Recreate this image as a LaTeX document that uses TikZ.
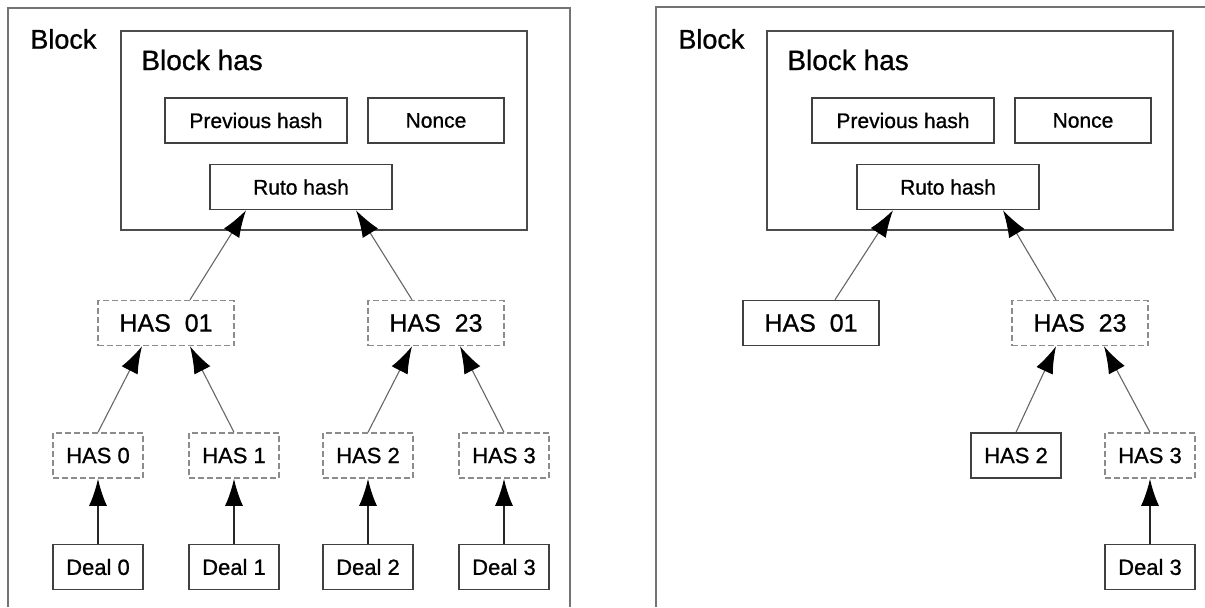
\documentclass[tikz,border=0pt]{standalone}
\usepackage{fontspec}
\setmainfont{Liberation Sans}[FakeBold=0.9]
\usetikzlibrary{positioning,arrows.meta}

\tikzset{
  hashbox/.style={draw=black!75,line width=0.75pt,inner sep=0pt,minimum height=22.5pt,minimum width=45pt,font=\fontsize{11}{13}\selectfont},
  dashbox/.style={hashbox,draw=black!45,dash pattern=on 3pt off 1.5pt},
  pairbox/.style={minimum width=68pt,font=\fontsize{12.5}{15}\selectfont},
  fieldbox/.style={hashbox,minimum width=91pt,font=\fontsize{10.5}{12}\selectfont},
  title/.style={anchor=west,inner sep=0pt,font=\fontsize{13.5}{16}\selectfont},
  frame/.style={draw=black!55,line width=1.1pt},
  body/.style={draw=black!70,line width=0.75pt,minimum width=203pt,minimum height=99.5pt},
  link/.style={draw=black!60,line width=0.55pt},
  feed/.style={draw=black!85,line width=0.9pt},
}

\begin{document}
\begin{tikzpicture}[x=0.5pt,y=-0.5pt,on grid,>={Latex[length=13.5pt,width=9pt,color=black]}]
    \useasboundingbox (0,0) rectangle (1205,607);
    % left block: full tree
    \draw[frame] (8,607) |- (570,8) -- (570,607);
    \node[title] (blockL) at (30,39) {Block};
    \node[body] (bodyL) at (324,130.5) {};
    \node[title,font=\fontsize{14}{16}\selectfont] (hasL) at (141,60) {Block has};
    \node[fieldbox] (rutoL) at (301,187) {Ruto hash};
    \node[fieldbox] (prevL)                    [above left=33.25pt and 22.5pt of rutoL]  {Previous hash};
    \node[fieldbox,minimum width=68pt] (nonceL) [above right=33.25pt and 67.5pt of rutoL] {Nonce};
    \node[dashbox,pairbox] (h01L) [below left=68pt and 67.5pt of rutoL]  {HAS\ \ 01};
    \node[dashbox,pairbox] (h23L) [below right=68pt and 67.5pt of rutoL] {HAS\ \ 23};
    \node[dashbox] (h0L) [below left=66.25pt and 34pt of h01L]  {HAS 0};
    \node[dashbox] (h1L) [below right=66.25pt and 34pt of h01L] {HAS 1};
    \node[dashbox] (h2L) [below left=66.25pt and 34pt of h23L]  {HAS 2};
    \node[dashbox] (h3L) [below right=66.25pt and 34pt of h23L] {HAS 3};
    \node[hashbox] (d0L) [below=55.75pt of h0L] {Deal 0};
    \node[hashbox] (d1L) [below=55.75pt of h1L] {Deal 1};
    \node[hashbox] (d2L) [below=55.75pt of h2L] {Deal 2};
    \node[hashbox] (d3L) [below=55.75pt of h3L] {Deal 3};
    \path[->]
    (d0L) edge[feed] (h0L)
    (d1L) edge[feed] (h1L)
    (d2L) edge[feed] (h2L)
    (d3L) edge[feed] (h3L)
    (h0L.north) edge[link] ([xshift=-12pt]h01L.south)
    (h1L.north) edge[link] ([xshift=12pt]h01L.south)
    (h2L.north) edge[link] ([xshift=-12pt]h23L.south)
    (h3L.north) edge[link] ([xshift=12pt]h23L.south)
    ([xshift=12pt]h01L.north) edge[link] ([xshift=-27.5pt]rutoL.south)
    ([xshift=-12pt]h23L.north) edge[link] ([xshift=27.5pt]rutoL.south);

    % right block: pruned tree
    \draw[frame] (656,607) |- (1205,7);
    \node[title] (blockR) at (678,39) {Block};
    \node[body] (bodyR) at (970,130.5) {};
    \node[title,font=\fontsize{14}{16}\selectfont] (hasR) at (787,60) {Block has};
    \node[fieldbox] (rutoR) at (948,187) {Ruto hash};
    \node[fieldbox] (prevR)                    [above left=33.25pt and 22.5pt of rutoR]  {Previous hash};
    \node[fieldbox,minimum width=68pt] (nonceR) [above right=33.25pt and 67.5pt of rutoR] {Nonce};
    \node[hashbox,pairbox] (h01R) [below left=68pt and 68.5pt of rutoR]  {HAS\ \ 01};
    \node[dashbox,pairbox] (h23R) [below right=68pt and 66pt of rutoR] {HAS\ \ 23};
    \node[hashbox] (h2R) [below left=66.25pt and 32pt of h23R]  {HAS 2};
    \node[dashbox] (h3R) [below right=66.25pt and 35pt of h23R] {HAS 3};
    \node[hashbox] (d3R) [below=55.75pt of h3R] {Deal 3};
    \path[->]
    (d3R) edge[feed] (h3R)
    (h2R.north) edge[link] ([xshift=-12pt]h23R.south)
    (h3R.north) edge[link] ([xshift=12pt]h23R.south)
    ([xshift=12pt]h01R.north) edge[link] ([xshift=-27.5pt]rutoR.south)
    ([xshift=-12pt]h23R.north) edge[link] ([xshift=27.5pt]rutoR.south);
\end{tikzpicture}
\end{document}
